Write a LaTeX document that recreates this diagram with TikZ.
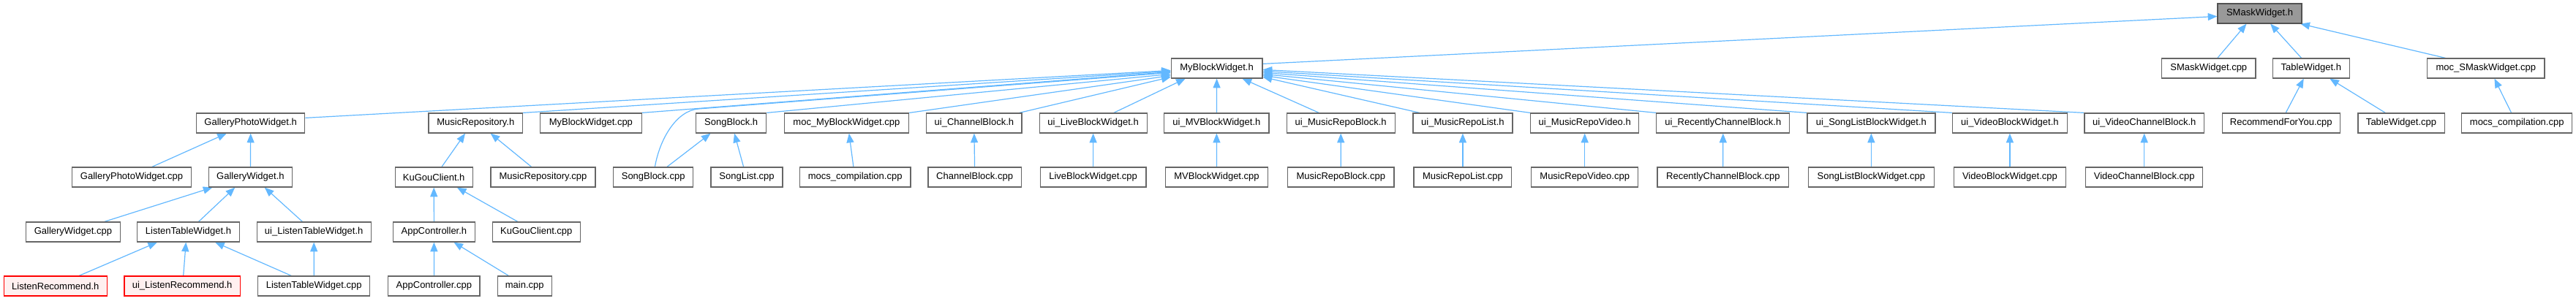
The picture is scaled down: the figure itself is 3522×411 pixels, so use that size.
\documentclass[tikz,border=0pt]{standalone}
\usepackage{fontspec}
\setmainfont{Liberation Sans}
\usetikzlibrary{arrows.meta,calc}
\pgfdeclarelayer{bg}
\pgfsetlayers{bg,main}
\definecolor{edgeblue}{HTML}{63B8FF}
\definecolor{boxgray}{HTML}{666666}
\definecolor{rootfill}{HTML}{999999}
\definecolor{redfill}{HTML}{FFF0F0}
\tikzset{
  box/.style={draw=boxgray, fill=white, line width=0.9pt, rectangle, inner sep=0pt,
    minimum height=20.25pt, font=\fontsize{9.75}{11}\selectfont},
  wd/.style={minimum width=#1*0.75pt},
  rootbox/.style={box, fill=rootfill, draw=boxgray!80!black},
  redbox/.style={box, draw=red, fill=redfill},
  edge/.style={draw=edgeblue, line width=0.9pt, -{Triangle[length=9.5pt,width=7.5pt]}}
}
\newcommand{\edg}[4]{\draw[edge] ($(#1.north west)!#2!(#1.north east)$) -- ($(#3.south west)!#4!(#3.south east)$);}
\begin{document}
\begin{tikzpicture}[x=0.75pt,y=-0.75pt]
\useasboundingbox (0,0) rectangle (3522,411);
% row 0
\node[rootbox, wd=115] (smh) at (3089.5,18.5) {SMaskWidget.h};
% row 1
\node[box, wd=124.6] (mbw) at (1663.6,93.5) {MyBlockWidget.h};
\node[box, wd=128.2] (smc) at (3019.8,93.5) {SMaskWidget.cpp};
\node[box, wd=105] (twh) at (3159.8,93.5) {TableWidget.h};
\node[box, wd=160.5] (msmc) at (3398.8,93.5) {moc\_SMaskWidget.cpp};
% row 2
\node[box, wd=148.1] (gpwh) at (342.7,168.5) {GalleryPhotoWidget.h};
\node[box, wd=128.6] (mrh) at (650.3,168.5) {MusicRepository.h};
\node[box, wd=138.4] (mbwc) at (807.9,168.5) {MyBlockWidget.cpp};
\node[box, wd=96] (sbh) at (999.7,168.5) {SongBlock.h};
\node[box, wd=170.5] (mmbc) at (1157.4,168.5) {moc\_MyBlockWidget.cpp};
\node[box, wd=130.3] (uich) at (1331.9,168.5) {ui\_ChannelBlock.h};
\node[box, wd=147] (uilbw) at (1494.6,168.5) {ui\_LiveBlockWidget.h};
\node[box, wd=143.3] (uimvh) at (1663.4,168.5) {ui\_MVBlockWidget.h};
\node[box, wd=148.1] (uimrb) at (1833.2,168.5) {ui\_MusicRepoBlock.h};
\node[box, wd=136] (uimrl) at (1999.9,168.5) {ui\_MusicRepoList.h};
\node[box, wd=148.1] (uimrv) at (2166.7,168.5) {ui\_MusicRepoVideo.h};
\node[box, wd=182] (uircb) at (2355.8,168.5) {ui\_RecentlyChannelBlock.h};
\node[box, wd=175] (uislb) at (2558.4,168.5) {ui\_SongListBlockWidget.h};
\node[box, wd=157] (uivbw) at (2747.9,168.5) {ui\_VideoBlockWidget.h};
\node[box, wd=163.5] (uivcb) at (2931.7,168.5) {ui\_VideoChannelBlock.h};
\node[box, wd=161.1] (rfy) at (3118.7,168.5) {RecommendForYou.cpp};
\node[box, wd=118.2] (twc) at (3283,168.5) {TableWidget.cpp};
\node[box, wd=151.1] (mcc2) at (3441.2,168.5) {mocs\_compilation.cpp};
% row 3
\node[box, wd=162.5] (gpwc) at (180,242.5) {GalleryPhotoWidget.cpp};
\node[box, wd=114.2] (gwh) at (342.4,242.5) {GalleryWidget.h};
\node[box, wd=106.2] (kgh) at (593.2,242.5) {KuGouClient.h};
\node[box, wd=142.9] (mrc) at (742.5,242.5) {MusicRepository.cpp};
\node[box, wd=109.1] (sbc) at (893.2,242.5) {SongBlock.cpp};
\node[box, wd=98] (slc) at (1021,242.5) {SongList.cpp};
\node[box, wd=151.5] (mcc1) at (1169.2,242.5) {mocs\_compilation.cpp};
\node[box, wd=127.4] (cbc) at (1332.6,242.5) {ChannelBlock.cpp};
\node[box, wd=144.6] (lbwc) at (1494.6,242.5) {LiveBlockWidget.cpp};
\node[box, wd=140.6] (mvbc) at (1663.5,242.5) {MVBlockWidget.cpp};
\node[box, wd=145.3] (mrbc) at (1833.3,242.5) {MusicRepoBlock.cpp};
\node[box, wd=133.8] (mrlc) at (1999.9,242.5) {MusicRepoList.cpp};
\node[box, wd=145.7] (mrvc) at (2166.7,242.5) {MusicRepoVideo.cpp};
\node[box, wd=179.6] (rcbc) at (2355.8,242.5) {RecentlyChannelBlock.cpp};
\node[box, wd=171.5] (slbc) at (2558.4,242.5) {SongListBlockWidget.cpp};
\node[box, wd=153.5] (vbwc) at (2747.9,242.5) {VideoBlockWidget.cpp};
\node[box, wd=160] (vcbc) at (2931.7,242.5) {VideoChannelBlock.cpp};
% row 4
\node[box, wd=128.6] (gwc) at (99.9,317.5) {GalleryWidget.cpp};
\node[box, wd=139.5] (ltwh) at (257.5,317.5) {ListenTableWidget.h};
\node[box, wd=156.1] (uiltw) at (429.2,317.5) {ui\_ListenTableWidget.h};
\node[box, wd=111.4] (ach) at (593.4,317.5) {AppController.h};
\node[box, wd=120] (kgc) at (733.3,317.5) {KuGouClient.cpp};
% row 5
\node[redbox, wd=141.2] (lrh) at (75.8,391.5) {ListenRecommend.h};
\node[redbox, wd=158.4] (uilrh) at (249.1,391.5) {ui\_ListenRecommend.h};
\node[box, wd=153.3] (ltwc) at (429.2,391.5) {ListenTableWidget.cpp};
\node[box, wd=125.2] (acc) at (593.4,391.5) {AppController.cpp};
\node[box, wd=74] (mainc) at (717.2,391.5) {main.cpp};

\begin{pgfonlayer}{bg}
% edges to SMaskWidget.h
\draw[edge] ($(mbw.north east)+(0,8)$) -- ($(smh.north west)+(0,18)$);
\edg{smc}{0.593}{smh}{0.345}
\edg{twh}{0.375}{smh}{0.626}
\edg{msmc}{0.158}{smh}{0.98}
\edg{rfy}{0.54}{twh}{0.405}
\edg{twc}{0.318}{twh}{0.74}
\edg{mcc2}{0.45}{msmc}{0.572}
% fan into MyBlockWidget.h, left side
\draw[edge] ($(gpwh.north east)+(0,7)$) -- ($(mbw.north west)+(0,17)$);
\draw[edge] (mrh.north east) -- ($(mbw.north west)+(0,18)$);
\draw[edge] (mbwc.north east) -- ($(mbw.north west)+(0,19)$);
\coordinate (sbbend) at (955,149);
\draw[edge] ($(sbc.north west)!0.52!(sbc.north east)$) .. controls (902,190) and (925,151.3) .. (sbbend) -- ($(mbw.north west)+(0,20)$);
\draw[edge] (sbh.north east) -- ($(mbw.north west)+(0,22)$);
\draw[edge] (mmbc.north east) -- ($(mbw.north west)+(0,24)$);
\draw[edge] ($(uich.north east)+(-4,0)$) -- ($(mbw.north west)+(0,26)$);
\draw[edge] ($(uilbw.north west)!0.69!(uilbw.north east)$) -- ($(mbw.south west)+(20,0)$);
\draw[edge] (uimvh.north) -- (mbw.south);
% right side
\draw[edge] ($(uimrb.north west)!0.3!(uimrb.north east)$) -- ($(mbw.south east)+(-28,0)$);
\draw[edge] ($(uimrl.north west)!0.07!(uimrl.north east)$) -- ($(mbw.north east)+(0,26)$);
\draw[edge] (uimrv.north west) -- ($(mbw.north east)+(0,24)$);
\draw[edge] (uircb.north west) -- ($(mbw.north east)+(0,22)$);
\draw[edge] (uislb.north west) -- ($(mbw.north east)+(0,20)$);
\draw[edge] (uivbw.north west) -- ($(mbw.north east)+(0,18)$);
\draw[edge] (uivcb.north west) -- ($(mbw.north east)+(0,16)$);
% left subtree
\edg{gpwc}{0.67}{gpwh}{0.28}
\edg{gwh}{0.5}{gpwh}{0.5}
\edg{gwc}{0.83}{gwh}{0.05}
\edg{ltwh}{0.6}{gwh}{0.317}
\edg{uiltw}{0.4}{gwh}{0.668}
\edg{lrh}{0.727}{ltwh}{0.198}
\edg{uilrh}{0.51}{ltwh}{0.477}
\edg{ltwc}{0.30}{ltwh}{0.76}
\edg{ltwc}{0.5}{uiltw}{0.5}
\edg{kgh}{0.6}{mrh}{0.39}
\edg{mrc}{0.39}{mrh}{0.657}
\edg{ach}{0.5}{kgh}{0.5}
\edg{kgc}{0.29}{kgh}{0.795}
\edg{acc}{0.5}{ach}{0.5}
\edg{mainc}{0.21}{ach}{0.74}
\edg{sbc}{0.67}{sbh}{0.21}
\edg{slc}{0.456}{sbh}{0.545}
\edg{mcc1}{0.485}{mmbc}{0.52}
% vertical pairs
\edg{cbc}{0.5}{uich}{0.5}
\edg{lbwc}{0.5}{uilbw}{0.5}
\edg{mvbc}{0.5}{uimvh}{0.5}
\edg{mrbc}{0.5}{uimrb}{0.5}
\edg{mrlc}{0.5}{uimrl}{0.5}
\edg{mrvc}{0.5}{uimrv}{0.5}
\edg{rcbc}{0.5}{uircb}{0.5}
\edg{slbc}{0.5}{uislb}{0.5}
\edg{vbwc}{0.5}{uivbw}{0.5}
\edg{vcbc}{0.5}{uivcb}{0.5}
\end{pgfonlayer}
\end{tikzpicture}
\end{document}
